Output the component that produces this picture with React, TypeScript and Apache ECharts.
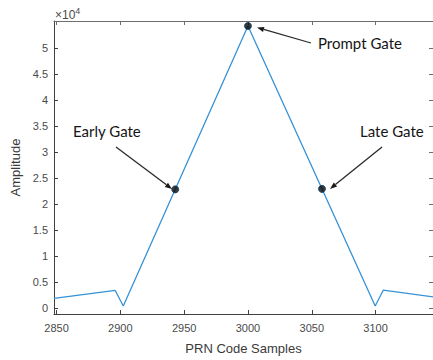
import React, { useEffect, useRef } from "react";
import * as echarts from "echarts";

// Correlation curve vertices (PRN code samples vs amplitude)
const sampleX = [2848, 2896, 2902.3, 3000, 3099.7, 3106, 3145];
const amplitude = [1875, 3410, 400, 54300, 400, 3450, 2160];

// Gate points
const gateNames = ["Early Gate", "Prompt Gate", "Late Gate"];
const gateX = [2943, 3000, 3058];
const gateY = [22850, 54300, 22950];

// Tick values
const xTicks = [2850, 2900, 2950, 3000, 3050, 3100];
const yTicks = [0, 5000, 10000, 15000, 20000, 25000, 30000, 35000, 40000, 45000, 50000];

const AXIS_COLOR = "#404040";
const LABEL_COLOR = "#4a4a4a";
const ANN_FONT = "Lato, 'Open Sans', sans-serif";

function arrow(x1: number, y1: number, x2: number, y2: number) {
  const dx = x2 - x1;
  const dy = y2 - y1;
  const len = Math.sqrt(dx * dx + dy * dy);
  const ux = dx / len;
  const uy = dy / len;
  const hl = 7;
  const hw = 2.6;
  const bx = x2 - ux * hl;
  const by = y2 - uy * hl;
  return [
    {
      type: "line",
      shape: { x1, y1, x2: bx, y2: by },
      style: { stroke: "#2a2a2a", lineWidth: 1.3 },
      z: 100,
    },
    {
      type: "polygon",
      shape: {
        points: [
          [x2, y2],
          [bx - uy * hw, by + ux * hw],
          [bx + uy * hw, by - ux * hw],
        ],
      },
      style: { fill: "#1a1a1a" },
      z: 100,
    },
  ];
}

function annText(text: string, x: number, y: number) {
  return {
    type: "text",
    x,
    y,
    style: {
      text,
      fontFamily: ANN_FONT,
      fontSize: 15,
      fill: "#151515",
      verticalAlign: "middle",
      align: "left",
    },
    z: 100,
  };
}

export default function App() {
  const ref = useRef<HTMLDivElement>(null);

  useEffect(() => {
    if (!ref.current) return;
    const chart = echarts.init(ref.current, undefined, { renderer: "svg" });

    const lineData = sampleX.map((x, i) => [x, amplitude[i]]);
    const gateData = gateX.map((x, i) => ({ name: gateNames[i], value: [x, gateY[i]] }));

    const baseAxisLabel = {
      color: LABEL_COLOR,
      fontFamily: "'Liberation Sans', Arial, sans-serif",
      fontSize: 11,
    };

    chart.setOption({
      animation: false,
      backgroundColor: "#ffffff",
      grid: { left: 54, top: 21, width: 380, height: 301, containLabel: false },
      xAxis: [
        {
          type: "value",
          min: 2848,
          max: 3145,
          position: "bottom",
          name: "PRN Code Samples",
          nameLocation: "middle",
          nameGap: 28,
          nameTextStyle: {
            color: "#3a3a3a",
            fontFamily: "'Liberation Sans', Arial, sans-serif",
            fontSize: 13,
          },
          axisLine: { show: true, onZero: false, lineStyle: { color: AXIS_COLOR, width: 1 } },
          axisTick: { show: true, inside: true, length: 4, customValues: xTicks, lineStyle: { color: AXIS_COLOR } },
          axisLabel: { ...baseAxisLabel, margin: 8, customValues: xTicks, formatter: (v: number) => String(v) },
          splitLine: { show: false },
        },
        {
          type: "value",
          min: 2848,
          max: 3145,
          position: "top",
          axisLine: { show: true, onZero: false, lineStyle: { color: "#6e6e6e", width: 1 } },
          axisTick: { show: true, inside: true, length: 4, customValues: xTicks, lineStyle: { color: "#6e6e6e" } },
          axisLabel: { show: false },
          splitLine: { show: false },
        },
      ],
      yAxis: [
        {
          type: "value",
          min: -1125,
          max: 55250,
          position: "left",
          name: "Amplitude",
          nameLocation: "middle",
          nameGap: 28,
          nameTextStyle: {
            color: "#3a3a3a",
            fontFamily: "'Liberation Sans', Arial, sans-serif",
            fontSize: 13,
          },
          axisLine: { show: true, onZero: false, lineStyle: { color: AXIS_COLOR, width: 1 } },
          axisTick: { show: true, inside: true, length: 4, customValues: yTicks, lineStyle: { color: AXIS_COLOR } },
          axisLabel: {
            ...baseAxisLabel,
            margin: 6,
            customValues: yTicks,
            formatter: (v: number) => String(v / 10000),
          },
          splitLine: { show: false },
        },
        {
          type: "value",
          min: -1125,
          max: 55250,
          position: "right",
          axisLine: { show: true, onZero: false, lineStyle: { color: "#6e6e6e", width: 1 } },
          axisTick: { show: true, inside: true, length: 4, customValues: yTicks, lineStyle: { color: "#6e6e6e" } },
          axisLabel: { show: false },
          splitLine: { show: false },
        },
      ],
      series: [
        {
          type: "line",
          data: lineData,
          showSymbol: false,
          symbol: "none",
          lineStyle: { color: "#3592d6", width: 1.3 },
          z: 2,
        },
        {
          type: "scatter",
          data: gateData,
          symbol: "circle",
          symbolSize: 7,
          itemStyle: { color: "#060606", borderColor: "#0d3d63", borderWidth: 1 },
          z: 5,
        },
      ],
      graphic: [
        {
          type: "text",
          x: 55,
          y: 15,
          style: {
            text: "{a|×10}{b|4}",
            verticalAlign: "middle",
            rich: {
              a: { fontSize: 12, fill: LABEL_COLOR, fontFamily: "'Liberation Sans', Arial, sans-serif" },
              b: {
                fontSize: 9,
                fill: LABEL_COLOR,
                fontFamily: "'Liberation Sans', Arial, sans-serif",
                verticalAlign: "top",
                padding: [0, 0, 8, 0],
              },
            },
          },
        },
        annText("Prompt Gate", 318, 43),
        annText("Early Gate", 73, 131),
        annText("Late Gate", 360, 131),
        ...arrow(311, 43, 257, 27.5),
        ...arrow(116, 147, 172, 189),
        ...arrow(382, 147, 330, 189),
      ],
    });

    return () => {
      chart.dispose();
    };
  }, []);

  return (
    <div
      ref={ref}
      style={{ position: "absolute", left: 0, top: 0, width: 433, height: 360, background: "#fff" }}
    />
  );
}
